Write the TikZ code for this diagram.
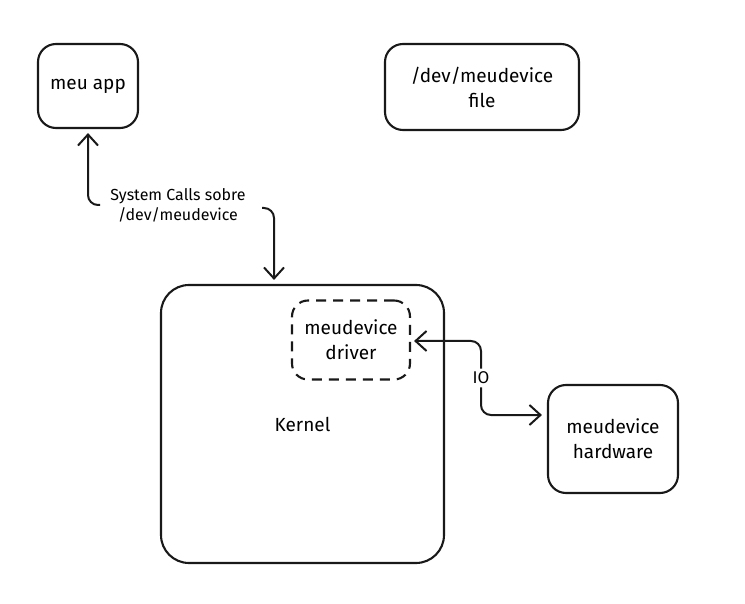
\documentclass[tikz,border=0pt]{standalone}
\usepackage{fontspec}
\setmainfont{Fira Sans}
\usetikzlibrary{arrows.meta}
\tikzset{
  box/.style={draw=black!90, line width=2.1pt, rounded corners=18pt, align=center, font=\fontsize{19}{25}\selectfont, inner sep=0pt},
  dbox/.style={box, dashed, dash pattern=on 10pt off 7pt, rounded corners=16pt},
  lbl/.style={align=center, font=\fontsize{16}{20}\selectfont, inner sep=1pt},
  arr/.style={draw=black!90, line width=2pt, rounded corners=10pt, -{Straight Barb[length=11pt, width=20pt, line width=2pt]}},
}
\begin{document}
\begin{tikzpicture}[x=1pt, y=-1pt]
\useasboundingbox (0,0) rectangle (745,604);
\node[box, minimum width=100pt, minimum height=84pt] (app) at (88,86) {meu app};
\node[box, minimum width=194pt, minimum height=86pt] (dev) at (482,87) {/dev/meudevice\\file};
\node[box, rounded corners=28pt, minimum width=283pt, minimum height=278pt] (kernel) at (302.5,424) {Kernel};
\node[dbox, minimum width=118pt, minimum height=79pt] (drv) at (351,340) {meudevice\\driver};
\node[box, minimum width=130pt, minimum height=108pt] (hw) at (613,439) {meudevice\\hardware};
\node[lbl] (sc) at (178,205) {System Calls sobre\\/dev/meudevice};
\node[lbl, font=\fontsize{17}{20}\selectfont] (io) at (481,378) {IO};
\coordinate (c1) at (100,205);
\coordinate (c2) at (262,208);
\draw[arr] (c1) -| ([yshift=-4pt]app.south);
\draw[arr] (c2) -| ([xshift=-28.5pt, yshift=4pt]kernel.north);
\draw[arr] ([yshift=2pt]io.north) |- ([xshift=3pt, yshift=-1pt]drv.east);
\draw[arr] ([yshift=-2pt]io.south) |- ([xshift=-5pt, yshift=24pt]hw.west);
\end{tikzpicture}
\end{document}
